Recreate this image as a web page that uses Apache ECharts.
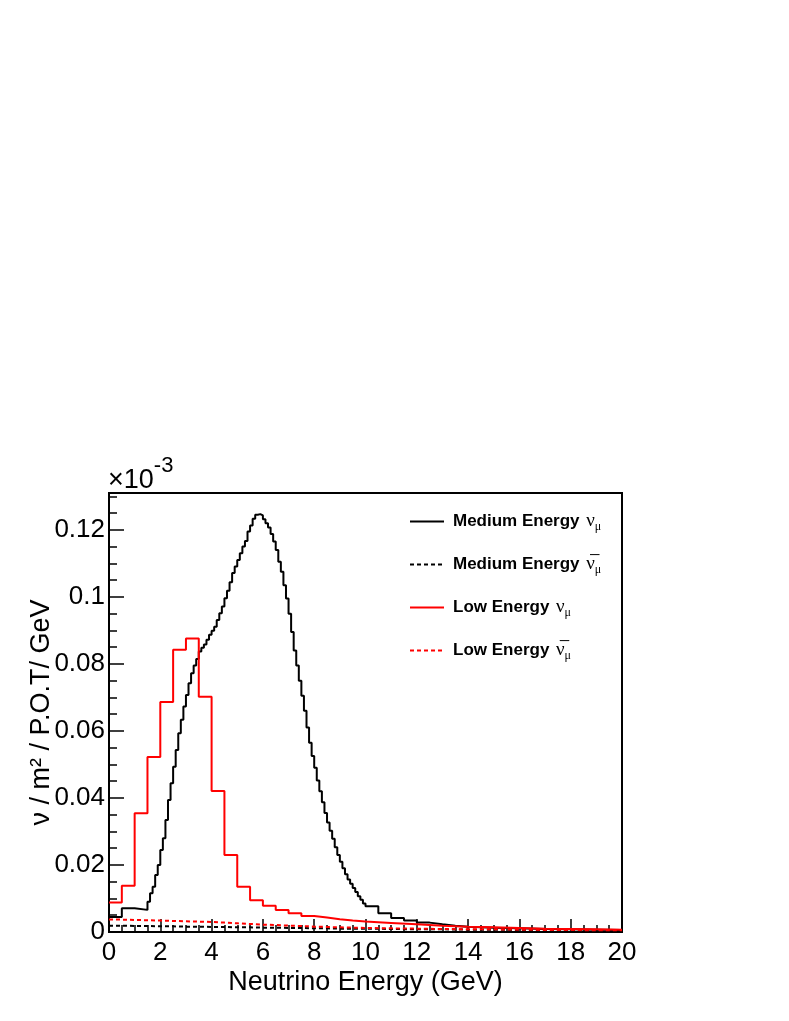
<!DOCTYPE html>
<html>
<head>
<meta charset="utf-8">
<script src="https://cdn.jsdelivr.net/npm/echarts@6/dist/echarts.min.js"></script>
<style>
  html, body { margin: 0; padding: 0; background: #fff; }
  #main { width: 789px; height: 1021px; }
</style>
</head>
<body>
<div id="main"></div>
<script>
var chartDom = document.getElementById('main');
var myChart = echarts.init(chartDom);
var option;

// bin layout: [start, width, count]
var meNuBins = [[0, 0.5, 3], [1.5, 0.1, 85], [10, 0.5, 8], [14, 1, 6]];
var meNuValues = [
  0.0045, 0.0071, 0.0066,
  0.0090, 0.0116, 0.0135, 0.0170, 0.0200, 0.0245, 0.0280, 0.0334, 0.0394, 0.0444,
  0.0493, 0.0543, 0.0593, 0.0633, 0.0673, 0.0707, 0.0742, 0.0772, 0.0795, 0.0815,
  0.0837, 0.0848, 0.0858, 0.0872, 0.0887, 0.0899, 0.0911, 0.0931, 0.0951, 0.0971,
  0.0996, 0.1018, 0.1044, 0.1071, 0.1091, 0.1110, 0.1130, 0.1150, 0.1167, 0.1195,
  0.1213, 0.1233, 0.1245, 0.1247, 0.1243, 0.1232, 0.1220, 0.1207, 0.1188, 0.1165,
  0.1140, 0.1105, 0.1075, 0.1035, 0.0995, 0.0950, 0.0895, 0.0840, 0.0795, 0.0750,
  0.0705, 0.0660, 0.0610, 0.0565, 0.0525, 0.0490, 0.0452, 0.0420, 0.0387, 0.0355,
  0.0327, 0.0302, 0.0278, 0.0253, 0.0230, 0.0210, 0.0190, 0.0172, 0.0157, 0.0144,
  0.0131, 0.0119, 0.0107, 0.0096, 0.0085,
  0.0077, 0.0056, 0.0042, 0.0034, 0.0028, 0.0023, 0.0019, 0.0016,
  0.0013, 0.0011, 0.0009, 0.0008, 0.0007, 0.0006
];

var meNubarBins = [[0, 0.5, 20], [10, 1, 10]];
var meNubarValues = [
  0.0019, 0.0018, 0.0018, 0.0017, 0.0017, 0.0016, 0.0016, 0.0015, 0.0015, 0.0014,
  0.0014, 0.0013, 0.0013, 0.0012, 0.0012, 0.0011, 0.0011, 0.0010, 0.0010, 0.0010,
  0.0009, 0.0008, 0.0008, 0.0007, 0.0007, 0.0006, 0.0006, 0.0005, 0.0005, 0.0005
];

var leNuBins = [[0, 0.5, 20], [10, 1, 10]];
var leNuValues = [
  0.0088, 0.0138, 0.0354, 0.0522, 0.0686, 0.0842, 0.0876, 0.0702, 0.0421, 0.0230,
  0.0135, 0.0095, 0.0078, 0.0066, 0.0056, 0.0048, 0.0043, 0.0038, 0.0034, 0.0031,
  0.0027, 0.0023, 0.0019, 0.0016, 0.0014, 0.0012, 0.0010, 0.0009, 0.0008, 0.0007
];

var leNubarBins = [[0, 0.5, 20], [10, 1, 10]];
var leNubarValues = [
  0.0037, 0.0036, 0.0035, 0.0034, 0.0033, 0.0032, 0.0031, 0.0030, 0.0028, 0.0026,
  0.0024, 0.0022, 0.0021, 0.0019, 0.0018, 0.0016, 0.0015, 0.0014, 0.0013, 0.0012,
  0.0011, 0.0010, 0.0009, 0.0008, 0.0008, 0.0007, 0.0006, 0.0006, 0.0005, 0.0005
];

var seriesNames = ['ME nu', 'ME nubar', 'LE nu', 'LE nubar'];
var legendText = [
  ['Medium Energy', '\u03BD'],
  ['Medium Energy', '\u03BD\u0305'],
  ['Low Energy', '\u03BD'],
  ['Low Energy', '\u03BD\u0305']
];
var xTicks = [0, 2, 4, 6, 8, 10, 12, 14, 16, 18, 20];
var yTickLabels = { 0: '0', 0.02: '0.02', 0.04: '0.04', 0.06: '0.06', 0.08: '0.08', 0.1: '0.1', 0.12: '0.12' };

function histPoints(bins, values) {
  var pts = [];
  var k = 0;
  var x = 0;
  bins.forEach(function (b) {
    for (var i = 0; i < b[2]; i++) {
      x = +(b[0] + i * b[1]).toFixed(4);
      pts.push([x, values[k++]]);
    }
    x = +(b[0] + b[2] * b[1]).toFixed(4);
  });
  pts.push([x, values[values.length - 1]]);
  return pts;
}

function histSeries(name, bins, values, color, dashed) {
  return {
    name: name,
    type: 'line',
    step: 'end',
    symbol: 'none',
    silent: true,
    animation: false,
    data: histPoints(bins, values),
    lineStyle: { color: color, width: 2, type: dashed ? [4, 3] : 'solid' },
    itemStyle: { color: color }
  };
}

option = {
  backgroundColor: '#fff',
  animation: false,
  grid: {
    left: 109, right: 167, top: 493, bottom: 89,
    show: true, borderColor: '#000', borderWidth: 2, backgroundColor: 'transparent'
  },
  legend: {
    orient: 'vertical',
    left: 409,
    top: 512,
    padding: 0,
    itemWidth: 34,
    itemHeight: 14,
    itemGap: 22,
    data: seriesNames,
    itemStyle: { opacity: 0 },
    formatter: function (name) {
      var p = legendText[seriesNames.indexOf(name)];
      return '{b|' + p[0] + '}  {g|' + p[1] + '}{s|\u03BC}';
    },
    textStyle: {
      rich: {
        b: { fontFamily: 'Liberation Sans', fontWeight: 'bold', fontSize: 17, color: '#000', padding: [0, 0, 0, 4] },
        g: { fontFamily: 'Liberation Serif', fontSize: 19, color: '#000' },
        s: { fontFamily: 'Liberation Serif', fontSize: 12, color: '#000', padding: [11, 0, 0, 0] }
      }
    }
  },
  graphic: [{
    type: 'text',
    left: 108,
    top: 455,
    style: {
      text: '{a|\u00D710}{e|-3}',
      rich: {
        a: { fontFamily: 'Liberation Sans', fontSize: 27, fill: '#000' },
        e: { fontFamily: 'Liberation Sans', fontSize: 22, fill: '#000', padding: [0, 0, 30, 0] }
      }
    }
  }],
  xAxis: {
    type: 'value',
    min: 0,
    max: 20,
    interval: 2,
    name: 'Neutrino Energy (GeV)',
    nameLocation: 'middle',
    nameGap: 37,
    nameTextStyle: { fontFamily: 'Liberation Sans', fontSize: 27, color: '#000' },
    axisLine: { onZero: false, lineStyle: { color: '#000', width: 2 } },
    axisTick: { inside: true, length: 13, lineStyle: { color: '#000', width: 1.5 } },
    minorTick: { show: true, splitNumber: 4, length: 7, lineStyle: { color: '#000', width: 1.5 } },
    axisLabel: {
      margin: 8, fontFamily: 'Liberation Sans', fontSize: 26, color: '#000',
      formatter: function (v) { return xTicks.indexOf(v) >= 0 ? String(v) : ''; }
    },
    splitLine: { show: false }
  },
  yAxis: {
    type: 'value',
    min: 0,
    max: 0.131,
    interval: 0.02,
    name: '\u03BD / m\u00B2 / P.O.T/ GeV',
    nameLocation: 'middle',
    nameGap: 54,
    nameMoveOverlap: false,
    nameTextStyle: { fontFamily: 'Liberation Sans', fontSize: 27, color: '#000' },
    axisLine: { onZero: false, lineStyle: { color: '#000', width: 2 } },
    axisTick: { inside: true, length: 15, lineStyle: { color: '#000', width: 1.5 } },
    minorTick: { show: true, splitNumber: 4, length: 8, lineStyle: { color: '#000', width: 1.5 } },
    axisLabel: {
      margin: 4, fontFamily: 'Liberation Sans', fontSize: 26, color: '#000',
      showMaxLabel: false,
      formatter: function (v) {
        var key = Math.round(v * 1000) / 1000;
        return yTickLabels[key] !== undefined ? yTickLabels[key] : '';
      }
    },
    splitLine: { show: false }
  },
  series: [
    histSeries(seriesNames[0], meNuBins, meNuValues, '#000', false),
    histSeries(seriesNames[1], meNubarBins, meNubarValues, '#000', true),
    histSeries(seriesNames[2], leNuBins, leNuValues, '#ff0000', false),
    histSeries(seriesNames[3], leNubarBins, leNubarValues, '#ff0000', true)
  ]
};

if (chartDom && myChart) {
  myChart.setOption(option);
} else {
  console.error('Failed to initialize the chart');
}
</script>
</body>
</html>
